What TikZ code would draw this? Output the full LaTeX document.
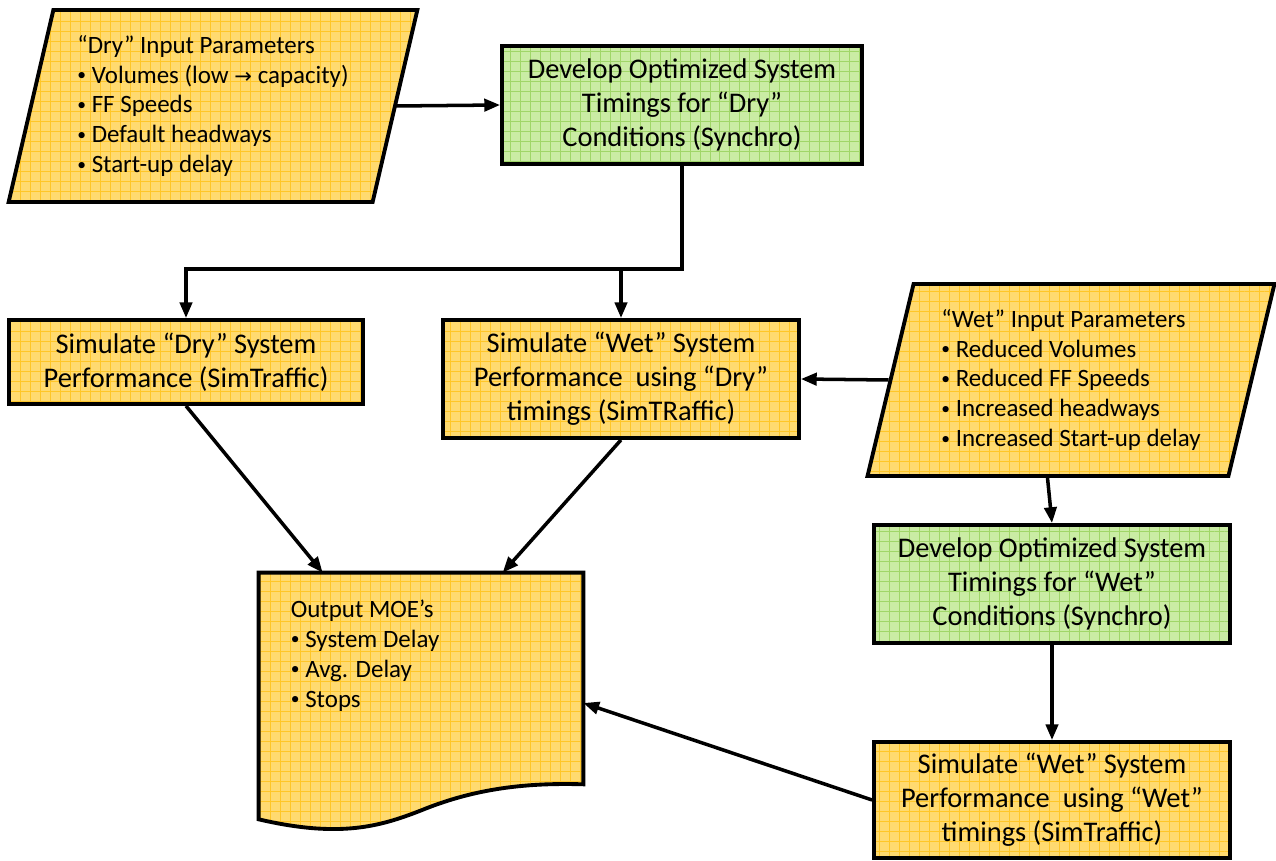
\documentclass[tikz,border=0pt]{standalone}
\usepackage{fontspec}
\setmainfont{Carlito}
\newfontfamily\arrowfont{DejaVu Sans}
\usepackage{tikz}
\usetikzlibrary{positioning, arrows.meta, shapes.geometric, patterns.meta, calc}
\definecolor{boxyellow}{RGB}{255, 218, 112}
\definecolor{gridyellow}{RGB}{255, 198, 40}
\definecolor{boxgreen}{RGB}{202, 236, 164}
\definecolor{gridgreen}{RGB}{160, 214, 104}
\pgfdeclarelayer{background}
\pgfsetlayers{background,main}
\newcommand{\itembul}{\raisebox{1.5pt}{\fontsize{10}{0}\selectfont•}}

\begin{document}
\begin{tikzpicture}[
    x=0.02cm, y=-0.02cm,
    yellowfill/.style={preaction={fill=boxyellow}, pattern={Hatch[angle=0, distance=0.2cm, line width=0.4pt]}, pattern color=gridyellow},
    greenfill/.style={preaction={fill=boxgreen}, pattern={Hatch[angle=0, distance=0.2cm, line width=0.4pt]}, pattern color=gridgreen},
    box/.style={rectangle, draw, line width=2.2pt, yellowfill, minimum width=7.12cm, minimum height=2.36cm, align=center, font=\fontsize{16.2}{19.3}\selectfont},
    synchro/.style={box, greenfill},
    params/.style={trapezium, trapezium left angle=75.5, trapezium right angle=104.5, trapezium stretches=true, draw, line width=2.2pt, yellowfill, minimum width=8.2cm, minimum height=3.84cm, align=left, font=\fontsize{14.2}{17}\selectfont},
    docbox/.style={rectangle, minimum width=6.48cm, minimum height=5.2cm},
    moetext/.style={anchor=north west, align=left, xshift=0.52cm, yshift=-0.42cm, font=\fontsize{14.2}{17}\selectfont},
    arrow/.style={->, >={Triangle[length=9pt, width=7pt]}, line width=2pt}
]
    \useasboundingbox (0,0) rectangle (1276,861);

    \node[params] (dryin) at (213,106) {“Dry” Input Parameters\\\itembul\ Volumes (low {\arrowfont\fontsize{12}{17}\selectfont→} capacity)\\\itembul\ FF Speeds\\\itembul\ Default headways\\\itembul\ Start-up delay};
    \node[synchro, minimum width=7.2cm] (optdry) at (682,105) {Develop Optimized System\\Timings for “Dry”\\Conditions (Synchro)};
    \node[box, minimum width=7.08cm, minimum height=1.68cm] (simdry) at (186,362) {Simulate “Dry” System\\Performance (SimTraffic)};
    \node[box] (simwetdry) at (621,379) {Simulate “Wet” System\\Performance \ using “Dry”\\timings (SimTRaffic)};
    \node[params, minimum width=8.16cm] (wetin) at (1071,380) {“Wet” Input Parameters\\\itembul\ Reduced Volumes\\\itembul\ Reduced FF Speeds\\\itembul\ Increased headways\\\itembul\ Increased Start-up delay};
    \node[synchro] (optwet) at (1052,584) {Develop Optimized System\\Timings for “Wet”\\Conditions (Synchro)};
    \node[box, minimum height=2.32cm] (simwetwet) at (1052,800) {Simulate “Wet” System\\Performance \ using “Wet”\\timings (SimTraffic)};
    \node[docbox, label={[moetext]north west:Output MOE’s\\\itembul\ System Delay\\\itembul\ Avg. Delay\\\itembul\ Stops}] (moe) at (421,703) {};

    \begin{pgfonlayer}{background}
        \draw[line width=2.2pt, yellowfill] (moe.north west) -- (moe.north east) -- ($(moe.south east)+(0,-49)$)
            .. controls ($(moe.south east)+(-63,-51)$) and ($(moe.south east)+(-113,-43)$) .. ($(moe.south east)+(-162,-23)$)
            .. controls ($(moe.south east)+(-203,-7)$) and ($(moe.south east)+(-243,5)$) .. ($(moe.south west)+(0,-14)$) -- cycle;
    \end{pgfonlayer}

    \coordinate (split) at ($(optdry.south)+(0,103)$);
    \draw[arrow] (dryin.right side) -- (optdry.west);
    \draw[arrow] (optdry.south) -- (split) -| (simdry.north);
    \draw[arrow] (simwetdry.north |- split) -- (simwetdry.north);
    \draw[arrow] (wetin.left side) -- (simwetdry.east);
    \draw[arrow] (wetin.bottom side) -- (optwet.north);
    \draw[arrow] (optwet.south) -- (simwetwet.north);
    \draw[arrow] (simdry.south) -- ($(moe.north west)+(64,0)$);
    \draw[arrow] (simwetdry.south) -- ($(moe.north west)+(244,0)$);
    \draw[arrow] (simwetwet.west) -- (moe.east);
\end{tikzpicture}
\end{document}
